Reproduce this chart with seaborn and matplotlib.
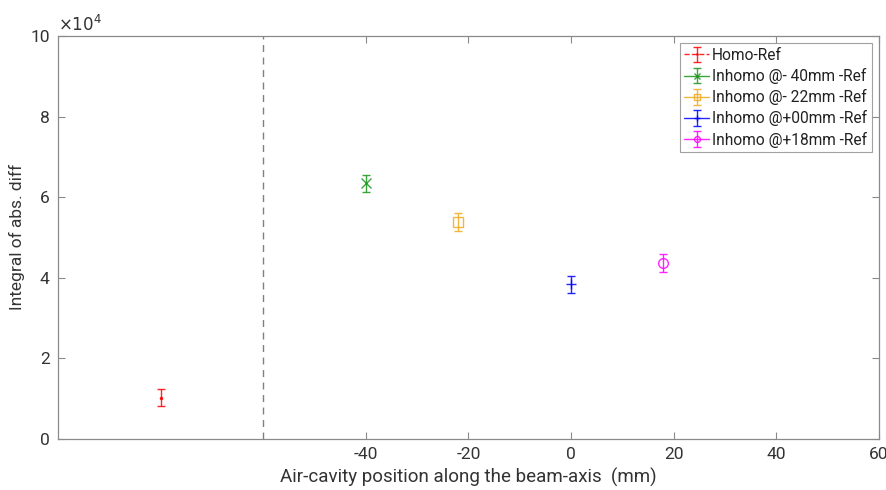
import matplotlib
matplotlib.use("Agg")
import matplotlib.pyplot as plt
import seaborn as sns
import pandas as pd

# Integral of absolute difference per configuration (units of 1e4)
labels = ["Homo-Ref", "Inhomo @- 40mm -Ref", "Inhomo @- 22mm -Ref",
          "Inhomo @+00mm -Ref", "Inhomo @+18mm -Ref"]
positions = [-80, -40, -22, 0, 18]
values = [1.02, 6.34, 5.39, 3.83, 4.36]
errors = [0.21, 0.22, 0.22, 0.22, 0.22]
x_ticks = [-40, -20, 0, 20, 40, 60]
y_ticks = [0, 2, 4, 6, 8, 10]

colors = ["#ff0000", "#1a961a", "#f0aa1e", "#0000ff", "#ff00ff"]
markers = [".", "x", "s", "+", "o"]
linestyles = ["--", "-", "-", "-", "-"]

df = pd.DataFrame({"label": labels, "pos": positions, "val": values, "err": errors})

sns.set_theme(style="white")
plt.rcParams["font.family"] = ["Roboto", "DejaVu Sans"]

fig = plt.figure(figsize=(8.87, 4.90), dpi=100)
ax = fig.add_axes([58 / 887, 1 - 438.7 / 490, (879 - 58) / 887, (438.7 - 36) / 490])

for i, row in df.iterrows():
    ax.errorbar(row["pos"], row["val"], yerr=row["err"], color=colors[i],
                marker=markers[i], ls=linestyles[i], lw=1.0,
                ms=3 if markers[i] == "." else 7,
                mfc="none" if markers[i] in ("s", "o") else colors[i],
                mew=1.0, capsize=3, capthick=1.0, elinewidth=1.0, alpha=0.85,
                label=row["label"])

ax.axvline(-60, color="#808080", ls=(0, (5, 4)), lw=1.0)

ax.set_xlim(-100, 60)
ax.set_ylim(0, 10)
ax.set_xticks(x_ticks)
ax.set_yticks(y_ticks)
ax.set_xticklabels([str(t) for t in x_ticks])
ax.set_yticklabels([str(t) for t in y_ticks])

axis_col = "#8a8a8a"
text_col = "#333333"
for s in ax.spines.values():
    s.set_visible(True)
    s.set_color(axis_col)
    s.set_linewidth(0.9)
ax.tick_params(direction="in", length=5, width=0.8, color=axis_col,
               labelcolor=text_col, labelsize=12.5, top=True, right=True,
               bottom=True, left=True, pad=6)

ax.set_xlabel("Air-cavity position along the beam-axis  (mm)", fontsize=13.5,
              color=text_col, labelpad=4)
ax.set_ylabel("Integral of abs. diff", fontsize=12.5, color=text_col, labelpad=4)
ax.text(0.0, 1.005, r"$\times10^{4}$", transform=ax.transAxes, ha="left",
        va="bottom", fontsize=12, color=text_col)

leg = ax.legend(loc="upper right", bbox_to_anchor=(0.9915, 0.982), fontsize=11.2,
                frameon=True, fancybox=False, borderpad=0.3, labelspacing=0.33,
                handlelength=1.6, handletextpad=0.2, borderaxespad=0.0,
                markerscale=0.6)
leg.get_frame().set_edgecolor(axis_col)
leg.get_frame().set_linewidth(0.8)
for t in leg.get_texts():
    t.set_color("#222222")

fig.savefig("out.png", dpi=100)
